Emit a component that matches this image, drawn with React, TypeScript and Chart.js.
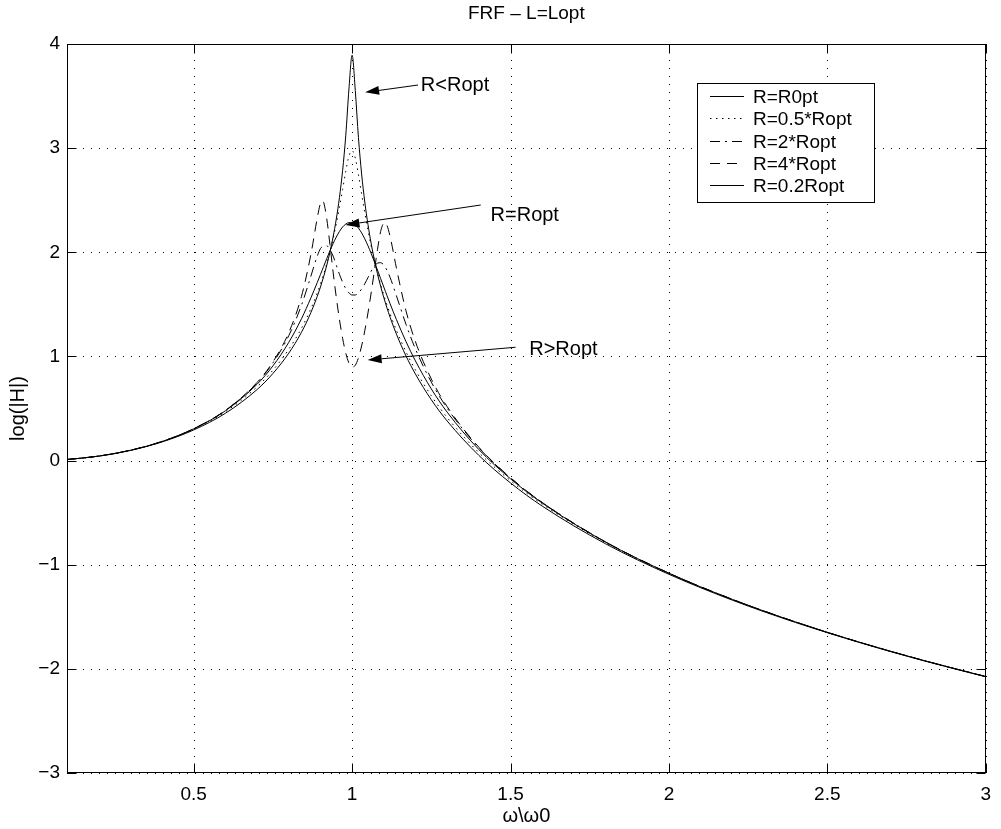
import React, { useEffect, useRef } from 'react';
import { Chart, registerables } from 'chart.js';

Chart.register(...registerables);

// ---------- data ----------
const xValues = [0.1, 0.2, 0.3, 0.4, 0.5, 0.6, 0.7, 0.75, 0.8, 0.84, 0.87, 0.89, 0.9, 0.905, 0.91, 0.92, 0.93, 0.94, 0.95, 0.96, 0.97, 0.98, 0.99, 1.0, 1.01, 1.02, 1.03, 1.04, 1.05, 1.06, 1.07, 1.08, 1.09, 1.1, 1.105, 1.11, 1.12, 1.14, 1.17, 1.2, 1.25, 1.3, 1.4, 1.5, 1.6, 1.8, 2.0, 2.2, 2.4, 2.6, 2.8, 3.0];

const rOpt = [0.010, 0.043, 0.099, 0.183, 0.305, 0.478, 0.733, 0.909, 1.135, 1.361, 1.563, 1.710, 1.786, 1.825, 1.863, 1.940, 2.014, 2.084, 2.146, 2.200, 2.243, 2.271, 2.285, 2.283, 2.265, 2.232, 2.186, 2.129, 2.063, 1.989, 1.911, 1.830, 1.748, 1.666, 1.625, 1.585, 1.505, 1.353, 1.143, 0.956, 0.688, 0.465, 0.106, -0.175, -0.408, -0.783, -1.082, -1.333, -1.550, -1.743, -1.916, -2.074];

const rHalf = [0.010, 0.042, 0.098, 0.182, 0.302, 0.469, 0.708, 0.868, 1.068, 1.270, 1.459, 1.610, 1.695, 1.746, 1.789, 1.891, 2.005, 2.132, 2.274, 2.432, 2.604, 2.779, 2.923, 2.976, 2.904, 2.746, 2.560, 2.379, 2.212, 2.062, 1.926, 1.803, 1.692, 1.589, 1.541, 1.495, 1.407, 1.249, 1.044, 0.869, 0.622, 0.414, 0.077, -0.193, -0.419, -0.788, -1.085, -1.335, -1.551, -1.744, -1.917, -2.074];

const rDouble = [0.010, 0.043, 0.099, 0.183, 0.305, 0.481, 0.746, 0.938, 1.199, 1.491, 1.772, 1.964, 2.035, 2.052, 2.062, 2.062, 2.025, 1.964, 1.876, 1.789, 1.712, 1.651, 1.610, 1.590, 1.590, 1.610, 1.647, 1.698, 1.757, 1.818, 1.868, 1.895, 1.900, 1.878, 1.855, 1.828, 1.758, 1.581, 1.309, 1.071, 0.753, 0.503, 0.122, -0.167, -0.403, -0.781, -1.081, -1.332, -1.550, -1.743, -1.916, -2.074];

const rQuad = [0.010, 0.043, 0.099, 0.184, 0.306, 0.482, 0.750, 0.948, 1.229, 1.575, 1.982, 2.330, 2.470, 2.495, 2.480, 2.320, 2.075, 1.810, 1.568, 1.355, 1.174, 1.031, 0.936, 0.897, 0.915, 0.987, 1.101, 1.247, 1.417, 1.609, 1.816, 2.025, 2.200, 2.280, 2.285, 2.260, 2.150, 1.846, 1.438, 1.141, 0.783, 0.518, 0.128, -0.165, -0.402, -0.781, -1.081, -1.332, -1.550, -1.743, -1.916, -2.074];

const rFifth = [0.010, 0.042, 0.097, 0.179, 0.294, 0.454, 0.682, 0.836, 1.031, 1.231, 1.422, 1.577, 1.666, 1.715, 1.765, 1.876, 2.002, 2.148, 2.319, 2.526, 2.785, 3.124, 3.568, 3.892, 3.553, 3.100, 2.752, 2.483, 2.267, 2.086, 1.931, 1.795, 1.674, 1.565, 1.515, 1.466, 1.375, 1.213, 1.005, 0.830, 0.584, 0.380, 0.050, -0.215, -0.437, -0.799, -1.092, -1.340, -1.555, -1.746, -1.919, -2.076];

const seriesLabels = ['R=R0pt', 'R=0.5*Ropt', 'R=2*Ropt', 'R=4*Ropt', 'R=0.2Ropt'];

const xTicks = [0.5, 1, 1.5, 2, 2.5, 3];
const yTicks = [-3, -2, -1, 0, 1, 2, 3, 4];

const chartTitle = 'FRF \u2013 L=Lopt';
const xTitle = '\u03c9\\\u03c90';
const yTitle = 'log(|H|)';

const annotationTexts = ['R<Ropt', 'R=Ropt', 'R>Ropt'];
const annotationTextX = [1.217, 1.437, 1.559];
const annotationTextY = [3.60, 2.358, 1.062];
const arrowTailX = [1.208, 1.406, 1.516];
const arrowTailY = [3.606, 2.454, 1.088];
const arrowHeadX = [1.041, 0.979, 1.049];
const arrowHeadY = [3.536, 2.262, 0.966];

// ---------- styles ----------
const FONT = '"Liberation Sans", Arial, Helvetica, sans-serif';
const dashes: number[][] = [[], [1.5, 4.5], [10, 5, 2, 5], [10, 7], []];
const LEGEND = { left: 697, top: 83, width: 177, height: 119, rowH: 22.3, first: 13, lineX0: 710, lineX1: 744, textX: 753 };

const fmt = (v: number) => String(v).replace('-', '\u2212');

const decorPlugin = {
  id: 'decor',
  beforeDatasetsDraw(chart: any) {
    const { ctx, chartArea: ca, scales } = chart;
    const xs = scales.x, ys = scales.y;
    ctx.save();
    ctx.strokeStyle = '#000';
    ctx.lineWidth = 1;
    ctx.setLineDash([1, 7]);
    xTicks.forEach((t) => {
      const px = Math.round(xs.getPixelForValue(t)) + 0.5;
      ctx.beginPath();
      ctx.moveTo(px, ca.bottom);
      ctx.lineTo(px, ca.top);
      ctx.stroke();
    });
    yTicks.forEach((t) => {
      const py = Math.round(ys.getPixelForValue(t)) + 0.5;
      ctx.beginPath();
      ctx.moveTo(ca.left, py);
      ctx.lineTo(ca.right, py);
      ctx.stroke();
    });
    ctx.restore();
  },
  afterDatasetsDraw(chart: any) {
    const { ctx, chartArea: ca, scales } = chart;
    const xs = scales.x, ys = scales.y;
    ctx.save();
    ctx.strokeStyle = '#000';
    ctx.fillStyle = '#000';
    ctx.lineWidth = 1;
    ctx.setLineDash([]);
    // frame
    const L = Math.round(ca.left) + 0.5, R = Math.round(ca.right) - 0.5;
    const T = Math.round(ca.top) + 0.5, B = Math.round(ca.bottom) - 0.5;
    ctx.strokeRect(L, T, R - L, B - T);
    // inner ticks
    const tl = 9;
    xTicks.forEach((t) => {
      const px = Math.round(xs.getPixelForValue(t)) + 0.5;
      ctx.beginPath();
      ctx.moveTo(px, B); ctx.lineTo(px, B - tl);
      ctx.moveTo(px, T); ctx.lineTo(px, T + tl);
      ctx.stroke();
    });
    yTicks.forEach((t) => {
      const py = Math.round(ys.getPixelForValue(t)) + 0.5;
      ctx.beginPath();
      ctx.moveTo(L, py); ctx.lineTo(L + tl, py);
      ctx.moveTo(R, py); ctx.lineTo(R - tl, py);
      ctx.stroke();
    });
    // annotations
    ctx.font = `20px ${FONT}`;
    ctx.textBaseline = 'middle';
    ctx.textAlign = 'left';
    annotationTexts.forEach((txt, i) => {
      const tx = xs.getPixelForValue(arrowTailX[i]);
      const ty = ys.getPixelForValue(arrowTailY[i]);
      const hx = xs.getPixelForValue(arrowHeadX[i]);
      const hy = ys.getPixelForValue(arrowHeadY[i]);
      const ang = Math.atan2(hy - ty, hx - tx);
      const len = 14, hw = 4.5;
      const bx = hx - len * Math.cos(ang), by = hy - len * Math.sin(ang);
      ctx.beginPath();
      ctx.moveTo(tx, ty);
      ctx.lineTo(bx, by);
      ctx.stroke();
      ctx.beginPath();
      ctx.moveTo(hx, hy);
      ctx.lineTo(bx + hw * Math.sin(ang), by - hw * Math.cos(ang));
      ctx.lineTo(bx - hw * Math.sin(ang), by + hw * Math.cos(ang));
      ctx.closePath();
      ctx.fill();
      ctx.fillText(txt, xs.getPixelForValue(annotationTextX[i]), ys.getPixelForValue(annotationTextY[i]));
    });
    // legend
    ctx.fillStyle = '#fff';
    ctx.fillRect(LEGEND.left, LEGEND.top, LEGEND.width, LEGEND.height);
    ctx.strokeRect(LEGEND.left + 0.5, LEGEND.top + 0.5, LEGEND.width, LEGEND.height);
    ctx.fillStyle = '#000';
    ctx.font = `19px ${FONT}`;
    chart.data.datasets.forEach((ds: any, i: number) => {
      const cy = Math.round(LEGEND.top + LEGEND.first + i * LEGEND.rowH) + 0.5;
      ctx.setLineDash(ds.borderDash || []);
      ctx.beginPath();
      ctx.moveTo(LEGEND.lineX0, cy);
      ctx.lineTo(LEGEND.lineX1, cy);
      ctx.stroke();
      ctx.setLineDash([]);
      ctx.fillText(ds.label, LEGEND.textX, cy + 1);
    });
    // title
    ctx.font = `19px ${FONT}`;
    ctx.textAlign = 'center';
    ctx.fillText(chartTitle, (ca.left + ca.right) / 2, 14);
    ctx.restore();
  },
};

export default function App() {
  const ref = useRef<HTMLCanvasElement>(null);
  useEffect(() => {
    document.body.style.margin = '0';
    const series = [rOpt, rHalf, rDouble, rQuad, rFifth];
    const datasets = series.map((s, i) => ({
      label: seriesLabels[i],
      data: xValues.map((x, j) => ({ x, y: s[j] })),
      borderColor: '#000',
      backgroundColor: '#000',
      borderWidth: 1,
      borderDash: dashes[i],
      pointRadius: 0,
      fill: false,
      cubicInterpolationMode: 'monotone' as const,
    }));
    const tickFont = { family: FONT, size: 19 };
    const titleFont = { family: FONT, size: 20 };
    const chart = new Chart(ref.current!, {
      type: 'line',
      data: { datasets },
      options: {
        animation: false,
        responsive: false,
        devicePixelRatio: 1,
        layout: { padding: { top: 44, right: 10, left: 0, bottom: 0 } },
        plugins: { legend: { display: false }, title: { display: false }, tooltip: { enabled: false } },
        scales: {
          x: {
            type: 'linear',
            min: 0.1,
            max: 3,
            afterFit: (s: any) => { s.height = 56; },
            afterBuildTicks: (s: any) => { s.ticks = xTicks.map((v) => ({ value: v })); },
            grid: { display: false, drawTicks: false },
            border: { display: false },
            ticks: { padding: 10, color: '#000', font: tickFont, autoSkip: false, maxRotation: 0, callback: (v: any) => fmt(Number(v)) },
            title: { display: true, text: xTitle, color: '#000', font: titleFont, padding: { top: 0, bottom: 1 } },
          },
          y: {
            type: 'linear',
            min: -3,
            max: 4,
            afterFit: (s: any) => { s.width = 67; },
            afterBuildTicks: (s: any) => { s.ticks = yTicks.map((v) => ({ value: v })); },
            grid: { display: false, drawTicks: false },
            border: { display: false },
            ticks: { padding: 7, color: '#000', font: tickFont, autoSkip: false, callback: (v: any) => fmt(Number(v)) },
            title: { display: true, text: yTitle, color: '#000', font: titleFont, padding: { top: 6, bottom: 0 } },
          },
        },
      } as any,
      plugins: [decorPlugin],
    });
    return () => chart.destroy();
  }, []);
  return (
    <div style={{ width: 1001, height: 829 }}>
      <canvas ref={ref} width={1001} height={829} style={{ display: 'block', width: 1001, height: 829 }} />
    </div>
  );
}
